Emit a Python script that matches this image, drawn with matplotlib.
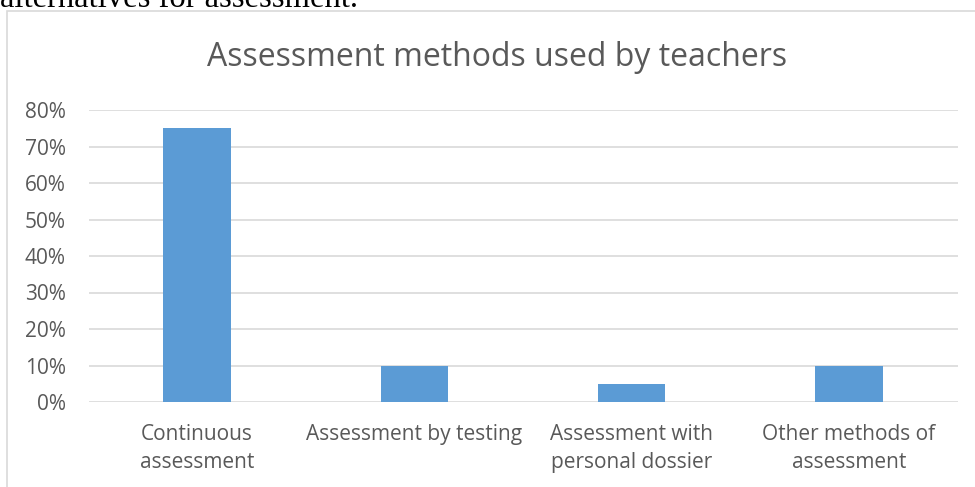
import matplotlib.pyplot as plt
from matplotlib.patches import Rectangle
from matplotlib.ticker import FuncFormatter

categories = [
    "Continuous\nassessment",
    "Assessment by testing",
    "Assessment with\npersonal dossier",
    "Other methods of\nassessment",
]
shares = [0.75, 0.10, 0.05, 0.10]
y_ticks = [0.0, 0.1, 0.2, 0.3, 0.4, 0.5, 0.6, 0.7, 0.8]

text_grey = "#595959"
grid_grey = "#d9d9d9"
bar_blue = "#5b9bd5"
font = "Open Sans"

fig = plt.figure(figsize=(9.75, 4.87), dpi=100)

# chart frame, cut off on the right and bottom like the page crop
fig.patches.append(Rectangle((7 / 975, -0.1), 1.2, 1 - 11 / 487 + 0.1,
                             transform=fig.transFigure, fill=False,
                             edgecolor=grid_grey, linewidth=1.2))

# leftover line of document text above the chart (cropped in the source too)
fig.text(0.0, 1 - 7 / 487, "alternatives for assessment.", family="Liberation Serif",
         fontsize=23.5, color="black", va="baseline", ha="left")

ax = fig.add_axes([88.5 / 975, 1 - 402 / 487, (957.5 - 88.5) / 975, (402 - 110) / 487])
x = range(len(categories))
ax.bar(x, shares, width=0.31, color=bar_blue, zorder=3)

ax.set_ylim(0, 0.8)
ax.set_xlim(-0.5, len(categories) - 0.5)
ax.set_yticks(y_ticks)
ax.yaxis.set_major_formatter(FuncFormatter(lambda v, _: f"{v * 100:.0f}%"))
ax.set_xticks(list(x))
ax.set_xticklabels(categories, linespacing=1.45)
ax.grid(axis="y", color=grid_grey, linewidth=1.2, zorder=0)
for s in ax.spines.values():
    s.set_visible(False)
ax.tick_params(length=0, colors=text_grey, labelsize=15)
ax.tick_params(axis="y", pad=16.5)
ax.tick_params(axis="x", pad=16)
for lbl in ax.get_xticklabels() + ax.get_yticklabels():
    lbl.set_family(font)
    lbl.set_color(text_grey)

fig.text(497 / 975, 1 - 58 / 487, "Assessment methods used by teachers", family=font,
         fontsize=23, color=text_grey, ha="center", va="center")

fig.savefig("out.png", dpi=100)
